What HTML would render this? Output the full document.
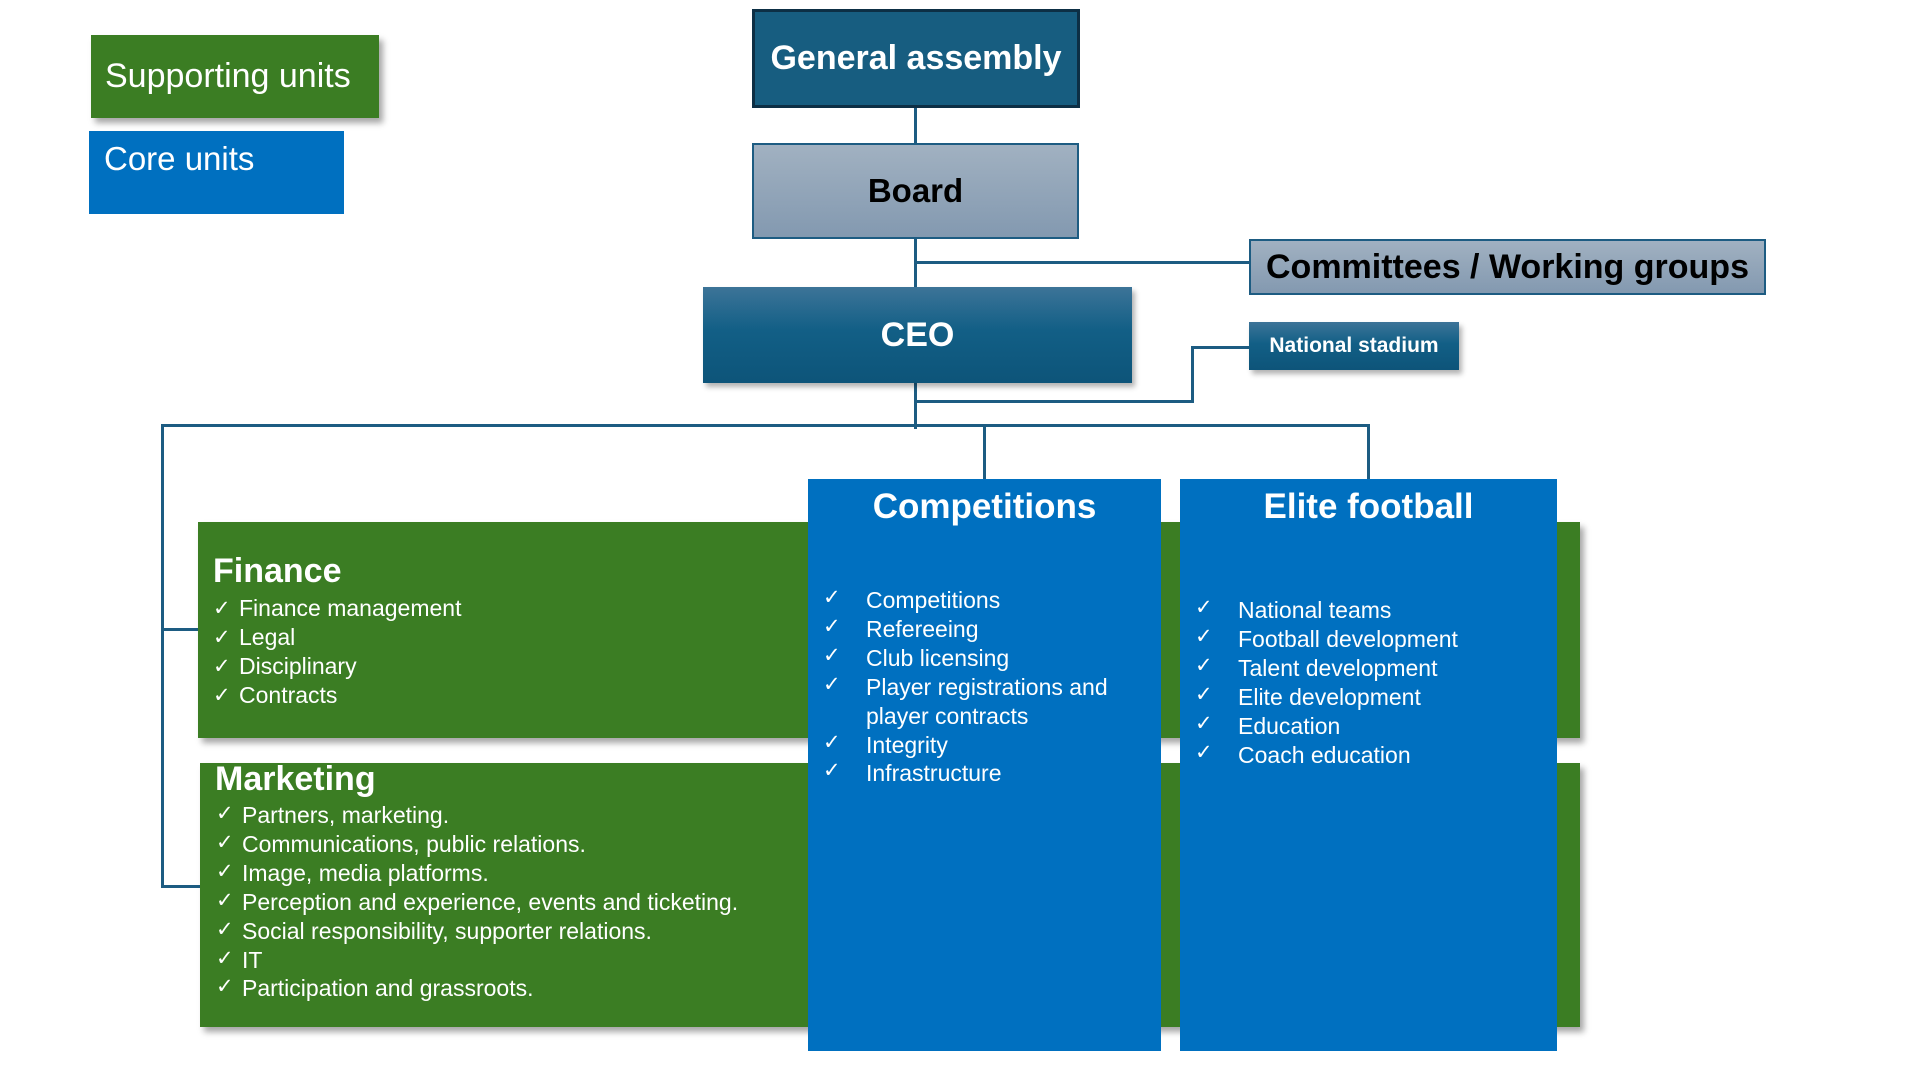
<!DOCTYPE html>
<html><head><meta charset="utf-8"><style>
body{margin:0;width:1906px;height:1067px;background:#fff;position:relative;overflow:hidden;font-family:"Liberation Sans",sans-serif}
.b{position:absolute;box-sizing:border-box;display:flex;align-items:center;justify-content:center}
.l{position:absolute;background:#1d5c82}
.t{position:absolute;color:#fff;white-space:nowrap}
.it{position:absolute;color:#fff;font-size:23px;white-space:nowrap;line-height:29px}
.ck{position:absolute;color:#fff;font-size:21px;line-height:29px}
.g{background:#3b7d23;box-shadow:4px 5px 6px rgba(0,0,0,.35)}
.bl{background:#0070c0}
</style></head><body>
<!-- legend -->
<div class="b g" style="left:91px;top:35px;width:288px;height:83px;color:#fff;font-size:34px;justify-content:flex-start;padding-left:14px">Supporting units</div>
<div class="b bl" style="left:89px;top:131px;width:255px;height:83px;color:#fff;font-size:33px;align-items:flex-start;justify-content:flex-start;padding:9px 0 0 15px">Core units</div>

<!-- lines -->
<div class="l" style="left:914px;top:107px;width:3px;height:322px"></div>
<div class="l" style="left:915px;top:261px;width:334px;height:3px"></div>
<div class="l" style="left:917px;top:400px;width:277px;height:3px"></div>
<div class="l" style="left:1191px;top:346px;width:3px;height:57px"></div>
<div class="l" style="left:1191px;top:346px;width:58px;height:3px"></div>
<div class="l" style="left:161px;top:424px;width:1209px;height:3px"></div>
<div class="l" style="left:983px;top:424px;width:3px;height:56px"></div>
<div class="l" style="left:1367px;top:424px;width:3px;height:56px"></div>
<div class="l" style="left:161px;top:424px;width:3px;height:464px"></div>
<div class="l" style="left:161px;top:628px;width:38px;height:3px"></div>
<div class="l" style="left:161px;top:885px;width:40px;height:3px"></div>

<!-- top boxes -->
<div class="b" style="left:752px;top:9px;width:328px;height:99px;background:#175d80;border:3px solid #0d2f45;color:#fff;font-weight:bold;font-size:34px">General assembly</div>
<div class="b" style="left:752px;top:143px;width:327px;height:96px;background:linear-gradient(#a1b1c1,#8399b0);border:2px solid #1d5c82;color:#000;font-weight:bold;font-size:33px">Board</div>
<div class="b" style="left:1249px;top:239px;width:517px;height:56px;background:linear-gradient(#a1b1c1,#8399b0);border:2px solid #1d5c82;color:#000;font-weight:bold;font-size:34px">Committees / Working groups</div>
<div class="b" style="left:703px;top:287px;width:429px;height:96px;background:linear-gradient(#3d7498,#125f86 45%,#0d5479);color:#fff;font-weight:bold;font-size:34px;box-shadow:3px 4px 5px rgba(0,0,0,.3)">CEO</div>
<div class="b" style="left:1249px;top:322px;width:210px;height:48px;background:linear-gradient(#3d7498,#125f86 45%,#0d5479);color:#fff;font-weight:bold;font-size:21px;box-shadow:3px 4px 5px rgba(0,0,0,.3)">National stadium</div>

<!-- green -->
<div class="b g" style="left:198px;top:522px;width:1382px;height:216px"></div>
<div class="b g" style="left:200px;top:763px;width:1380px;height:264px"></div>
<!-- blue -->
<div class="b bl" style="left:808px;top:479px;width:353px;height:572px"></div>
<div class="b bl" style="left:1180px;top:479px;width:377px;height:572px"></div>

<div class="t" style="left:213px;top:552px;font-size:34px;font-weight:bold">Finance</div>
<div class="ck" style="left:213px;top:594px">✓<br>✓<br>✓<br>✓</div>
<div class="it" style="left:239px;top:594px">Finance management<br>Legal<br>Disciplinary<br>Contracts</div>

<div class="t" style="left:215px;top:760px;font-size:34px;font-weight:bold">Marketing</div>
<div class="ck" style="left:216px;top:800px;line-height:28.9px">✓<br>✓<br>✓<br>✓<br>✓<br>✓<br>✓</div>
<div class="it" style="left:242px;top:801px;line-height:28.9px">Partners, marketing.<br>Communications, public relations.<br>Image, media platforms.<br>Perception and experience, events and ticketing.<br>Social responsibility, supporter relations.<br>IT<br>Participation and grassroots.</div>

<div class="t" style="left:808px;width:353px;text-align:center;top:487px;font-size:35px;font-weight:bold">Competitions</div>
<div class="ck" style="left:823px;top:584px;line-height:28.9px">✓<br>✓<br>✓<br>✓<br><br>✓<br>✓</div>
<div class="it" style="left:866px;top:586px;line-height:28.9px">Competitions<br>Refereeing<br>Club licensing<br>Player registrations and<br>player contracts<br>Integrity<br>Infrastructure</div>

<div class="t" style="left:1180px;width:377px;text-align:center;top:487px;font-size:35px;font-weight:bold">Elite football</div>
<div class="ck" style="left:1195px;top:594px;line-height:28.9px">✓<br>✓<br>✓<br>✓<br>✓<br>✓</div>
<div class="it" style="left:1238px;top:596px;line-height:28.9px">National teams<br>Football development<br>Talent development<br>Elite development<br>Education<br>Coach education</div>
</body></html>
